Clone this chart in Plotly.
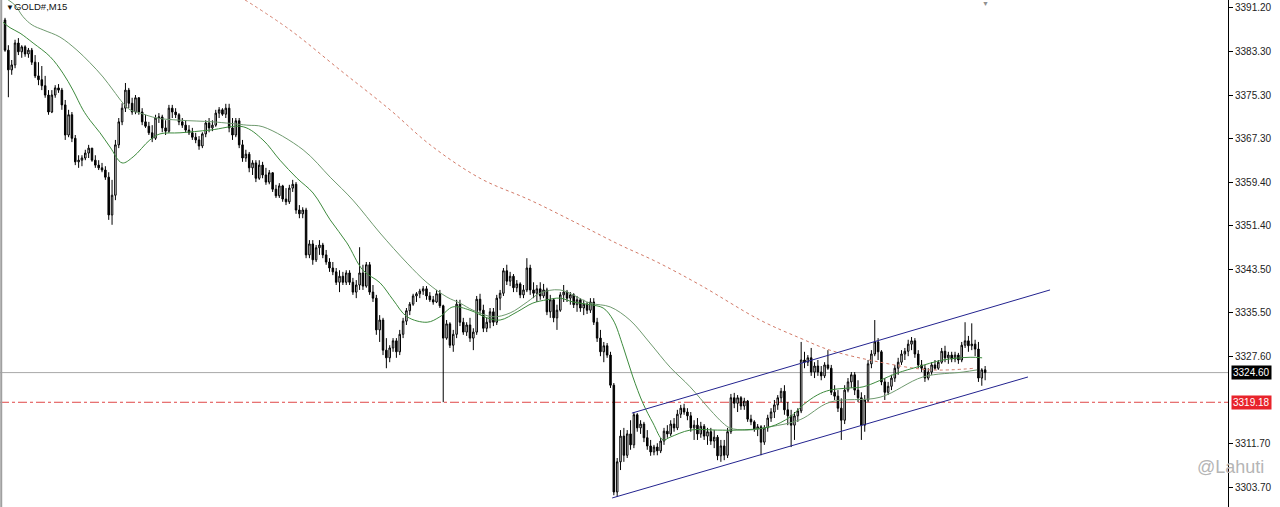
import plotly.graph_objects as go

# ---------------- data (GOLD#, M15) ----------------
first_open = 3389.0

closes = [
    3383.5, 3379.9, 3380.8, 3384.8, 3383.2, 3384.1, 3382.8, 3383.5, 3381.3, 3378.8,
    3378.1, 3377.0, 3375.3, 3372.2, 3375.3, 3376.6, 3376.2, 3373.5, 3368.0, 3371.7,
    3367.4, 3363.1, 3363.4, 3363.8, 3364.7, 3365.6, 3363.4, 3362.5, 3362.0, 3361.6,
    3360.3, 3353.4, 3357.0, 3366.2, 3370.4, 3372.9, 3376.2, 3373.8, 3372.2, 3374.8,
    3372.2, 3370.4, 3369.6, 3368.4, 3367.4, 3371.1, 3371.3, 3369.3, 3368.7, 3372.9,
    3372.2, 3371.7, 3370.4, 3369.8, 3368.9, 3368.4, 3367.6, 3367.1, 3366.0, 3368.2,
    3370.2, 3369.3, 3369.8, 3372.0, 3372.6, 3371.8, 3372.9, 3369.3, 3368.0, 3370.6,
    3366.2, 3363.8, 3364.5, 3362.0, 3362.9, 3360.1, 3362.5, 3360.7, 3359.4, 3361.1,
    3358.1, 3356.9, 3358.7, 3356.3, 3355.8, 3358.3, 3359.0, 3354.3, 3353.6, 3354.3,
    3346.1, 3348.1, 3345.2, 3347.4, 3347.9, 3346.1, 3344.8, 3343.7, 3343.0, 3341.1,
    3342.2, 3341.1, 3342.8, 3341.1, 3339.3, 3340.6, 3342.8, 3340.4, 3344.3, 3339.3,
    3338.2, 3332.4, 3334.2, 3328.7, 3327.3, 3329.1, 3330.4, 3328.4, 3331.6, 3334.0,
    3335.9, 3337.1, 3338.6, 3339.0, 3339.5, 3339.9, 3338.6, 3337.9, 3337.5, 3339.0,
    3336.8, 3330.9, 3333.5, 3329.6, 3331.6, 3337.1, 3333.8, 3332.0, 3333.3, 3330.9,
    3332.0, 3338.0, 3336.0, 3332.7, 3333.8, 3335.7, 3333.8, 3338.2, 3339.1, 3343.2,
    3341.3, 3342.2, 3340.1, 3340.8, 3338.8, 3339.7, 3343.7, 3339.7, 3339.1, 3339.9,
    3338.6, 3339.7, 3335.7, 3337.9, 3334.6, 3336.0, 3338.8, 3339.3, 3338.2, 3338.8,
    3337.0, 3337.9, 3336.4, 3337.1, 3336.0, 3337.5, 3333.8, 3330.9, 3328.4, 3329.5,
    3327.8, 3322.3, 3302.8, 3308.3, 3313.0, 3309.5, 3313.4, 3311.4, 3316.9, 3314.5,
    3315.2, 3312.7, 3311.2, 3310.1, 3311.0, 3310.3, 3312.1, 3313.9, 3313.4, 3315.2,
    3314.5, 3317.0, 3318.1, 3317.4, 3316.7, 3314.5, 3315.0, 3313.4, 3314.8, 3313.0,
    3313.8, 3312.1, 3312.8, 3309.4, 3311.2, 3309.5, 3313.8, 3320.0, 3319.0, 3320.0,
    3318.5, 3319.4, 3316.1, 3315.6, 3314.3, 3314.7, 3311.9, 3314.5, 3316.3, 3317.4,
    3318.7, 3320.0, 3321.2, 3317.8, 3316.7, 3315.0, 3316.7, 3317.6, 3326.9, 3326.5,
    3327.3, 3324.7, 3325.8, 3324.7, 3324.0, 3326.0, 3325.4, 3321.0, 3320.3, 3318.1,
    3315.9, 3321.4, 3322.9, 3324.2, 3321.4, 3320.0, 3315.0, 3319.6, 3326.2, 3328.0,
    3330.2, 3328.4, 3322.9, 3321.0, 3322.1, 3323.6, 3325.4, 3326.5, 3328.0, 3328.5,
    3329.8, 3330.4, 3328.0, 3326.0, 3325.4, 3323.6, 3324.7, 3326.0, 3325.4, 3326.5,
    3328.5, 3327.3, 3327.8, 3327.1, 3327.8, 3326.9, 3329.6, 3330.4, 3329.5, 3329.8,
    3328.9, 3323.6, 3325.1, 3324.6,
]

highs = [
    3389.4, 3384.4, 3381.7, 3385.4, 3385.7, 3384.4, 3384.4, 3383.9, 3383.9, 3382.6,
    3381.3, 3380.6, 3378.8, 3376.2, 3376.2, 3377.1, 3377.3, 3376.6, 3374.4, 3372.6,
    3372.2, 3368.0, 3364.3, 3364.3, 3365.3, 3366.2, 3365.4, 3364.3, 3363.4, 3362.9,
    3362.3, 3361.2, 3359.8, 3367.1, 3371.1, 3373.8, 3377.5, 3376.6, 3374.8, 3375.3,
    3374.9, 3372.9, 3371.7, 3370.4, 3369.8, 3371.7, 3372.0, 3371.7, 3370.7, 3373.5,
    3373.5, 3372.9, 3372.0, 3371.1, 3370.7, 3369.8, 3369.3, 3368.4, 3367.8, 3368.5,
    3370.7, 3371.1, 3370.7, 3372.6, 3373.1, 3372.9, 3373.7, 3373.7, 3371.1, 3371.1,
    3371.1, 3367.1, 3365.3, 3364.9, 3363.4, 3363.4, 3363.4, 3363.1, 3362.0, 3361.6,
    3361.2, 3358.9, 3359.2, 3358.9, 3358.3, 3358.9, 3359.8, 3359.4, 3355.2, 3354.8,
    3354.7, 3348.8, 3348.8, 3347.9, 3348.8, 3348.3, 3347.0, 3345.5, 3344.8, 3343.7,
    3343.3, 3343.0, 3343.3, 3343.3, 3341.9, 3341.5, 3347.5, 3344.3, 3344.8, 3344.8,
    3340.6, 3338.8, 3335.1, 3334.6, 3330.9, 3329.6, 3330.9, 3330.9, 3332.4, 3334.6,
    3336.4, 3337.5, 3339.0, 3339.3, 3339.9, 3340.4, 3340.4, 3339.3, 3338.6, 3339.7,
    3339.7, 3337.0, 3334.2, 3333.8, 3332.4, 3337.9, 3337.9, 3334.6, 3333.8, 3334.6,
    3332.7, 3338.6, 3339.0, 3337.0, 3334.6, 3336.4, 3336.4, 3338.8, 3339.7, 3343.7,
    3344.3, 3343.0, 3342.6, 3341.5, 3341.1, 3340.6, 3345.5, 3344.3, 3341.1, 3340.6,
    3341.1, 3340.8, 3340.1, 3338.8, 3338.2, 3337.0, 3339.3, 3340.6, 3339.7, 3339.3,
    3339.1, 3338.6, 3338.2, 3337.9, 3337.5, 3338.2, 3338.2, 3334.6, 3332.4, 3330.2,
    3330.0, 3328.4, 3322.7, 3309.0, 3314.1, 3314.5, 3314.1, 3315.9, 3317.4, 3317.2,
    3315.9, 3315.6, 3314.1, 3312.3, 3311.4, 3311.7, 3312.7, 3314.5, 3315.0, 3315.9,
    3316.3, 3317.8, 3318.7, 3318.9, 3318.1, 3317.4, 3315.9, 3316.3, 3315.6, 3315.2,
    3314.5, 3314.5, 3314.1, 3313.2, 3312.3, 3312.3, 3314.5, 3320.7, 3320.9, 3320.5,
    3320.3, 3320.0, 3319.6, 3316.9, 3315.9, 3315.2, 3315.0, 3315.0, 3316.9, 3318.1,
    3319.6, 3320.5, 3321.8, 3322.3, 3319.2, 3317.8, 3317.4, 3318.1, 3330.2, 3328.4,
    3327.8, 3329.1, 3326.5, 3326.9, 3325.8, 3326.5, 3328.7, 3326.0, 3322.3, 3321.4,
    3319.9, 3322.3, 3323.6, 3324.7, 3324.7, 3323.2, 3321.0, 3320.5, 3326.9, 3328.7,
    3334.2, 3330.9, 3328.7, 3323.6, 3322.9, 3324.2, 3326.0, 3327.3, 3328.7, 3329.1,
    3330.6, 3331.1, 3330.9, 3328.7, 3326.9, 3326.0, 3325.4, 3326.5, 3326.9, 3326.9,
    3329.1, 3329.5, 3328.4, 3328.4, 3328.4, 3328.2, 3330.2, 3333.8, 3331.3, 3333.6,
    3330.6, 3330.2, 3325.4, 3325.8,
]

lows = [
    3383.2, 3374.9, 3379.0, 3380.2, 3382.6, 3382.1, 3382.3, 3382.1, 3380.8, 3378.4,
    3377.1, 3376.2, 3374.8, 3371.7, 3372.0, 3374.8, 3375.7, 3372.6, 3367.1, 3367.6,
    3366.7, 3362.5, 3362.0, 3362.3, 3363.4, 3363.8, 3363.1, 3362.0, 3361.6, 3361.2,
    3359.8, 3352.5, 3351.6, 3356.1, 3365.6, 3369.8, 3372.2, 3372.9, 3371.7, 3371.8,
    3371.7, 3369.8, 3369.3, 3368.0, 3366.7, 3367.1, 3370.2, 3368.5, 3368.0, 3368.4,
    3371.1, 3371.1, 3369.8, 3369.3, 3368.5, 3368.0, 3367.1, 3366.5, 3365.3, 3365.6,
    3367.6, 3368.5, 3368.7, 3369.5, 3371.1, 3371.5, 3371.1, 3368.5, 3367.1, 3367.6,
    3365.6, 3363.1, 3363.1, 3361.2, 3360.7, 3359.4, 3359.8, 3360.1, 3358.9, 3359.0,
    3357.6, 3356.5, 3356.5, 3355.8, 3355.2, 3355.4, 3357.6, 3353.6, 3352.8, 3352.8,
    3345.5, 3345.5, 3344.3, 3344.8, 3346.1, 3345.5, 3344.3, 3343.0, 3342.4, 3340.6,
    3339.3, 3340.6, 3340.6, 3340.6, 3338.8, 3338.2, 3339.7, 3339.7, 3340.1, 3338.8,
    3337.5, 3331.5, 3330.2, 3327.8, 3325.4, 3326.5, 3328.4, 3327.3, 3327.8, 3330.9,
    3333.3, 3335.1, 3336.8, 3337.5, 3338.2, 3338.8, 3337.9, 3337.5, 3337.0, 3337.3,
    3336.4, 3319.2, 3330.6, 3329.1, 3328.4, 3330.9, 3333.1, 3331.5, 3331.3, 3330.2,
    3328.7, 3331.5, 3335.1, 3332.0, 3332.0, 3332.7, 3333.1, 3333.3, 3336.0, 3338.6,
    3340.6, 3340.4, 3339.3, 3339.3, 3338.2, 3338.2, 3339.3, 3338.8, 3338.2, 3337.5,
    3337.9, 3338.2, 3335.1, 3334.6, 3333.8, 3332.4, 3335.7, 3337.5, 3337.5, 3337.0,
    3336.4, 3335.7, 3335.7, 3335.1, 3335.3, 3335.5, 3333.3, 3330.2, 3327.6, 3326.5,
    3327.3, 3321.8, 3302.2, 3301.9, 3306.8, 3308.3, 3309.0, 3310.5, 3310.8, 3313.8,
    3313.4, 3311.9, 3310.5, 3309.4, 3309.5, 3309.5, 3309.9, 3311.4, 3312.7, 3313.0,
    3313.8, 3314.1, 3316.3, 3316.9, 3315.9, 3313.8, 3312.3, 3312.3, 3312.7, 3312.3,
    3311.4, 3311.4, 3310.8, 3308.6, 3308.3, 3308.6, 3309.0, 3313.4, 3318.1, 3317.4,
    3317.8, 3317.8, 3315.6, 3315.0, 3313.8, 3313.0, 3309.5, 3311.4, 3313.8, 3315.6,
    3316.3, 3317.8, 3319.2, 3316.9, 3315.0, 3311.0, 3312.3, 3315.6, 3317.2, 3325.4,
    3325.8, 3324.0, 3323.6, 3324.0, 3323.2, 3323.6, 3325.1, 3320.5, 3319.6, 3317.4,
    3312.3, 3315.2, 3321.0, 3321.8, 3320.5, 3319.2, 3312.3, 3313.8, 3319.2, 3325.4,
    3327.6, 3326.9, 3322.3, 3319.6, 3320.5, 3321.4, 3322.9, 3324.2, 3326.0, 3326.9,
    3327.6, 3328.7, 3327.3, 3325.4, 3324.7, 3322.9, 3323.2, 3324.2, 3325.1, 3325.1,
    3326.2, 3326.5, 3326.2, 3326.5, 3326.5, 3326.2, 3326.5, 3329.1, 3328.4, 3328.7,
    3327.6, 3322.9, 3322.2, 3323.2,
]

# moving averages (bar index, price)
ma_fast_x = [-0.6, 1.5, 4.5, 8.4, 13.5, 17.3, 20.3, 23.3, 25.4, 28.4, 31.4, 35.0, 38.3, 43.3, 46.3,
             52.3, 61.3, 71.2, 77.1, 82.2, 87.3, 92.1, 97.2, 102.2, 107.0, 112.1, 116.0, 120.2,
             126.2, 130.0, 133.9, 139.0, 144.1, 148.0, 153.1, 157.8, 162.0, 165.9, 169.8, 174.9,
             178.8, 181.8, 184.8, 187.7, 190.7, 193.7, 196.7, 198.8, 204.8, 212.9, 218.8, 228.7,
             234.7, 238.6, 242.8, 246.6, 252.6, 256.5, 266.7, 272.6, 280.4, 288.5, 292.1]
ma_fast_y = [3388.6, 3387.6, 3386.6, 3384.8, 3382.3, 3379.3, 3376.2, 3372.6, 3370.7, 3368.4, 3365.8,
             3362.9, 3364.0, 3367.1, 3368.2, 3368.4, 3368.9, 3369.5, 3367.1, 3363.4, 3360.1, 3357.4,
             3352.5, 3348.3, 3343.3, 3341.0, 3337.9, 3334.8, 3333.8, 3334.8, 3336.6, 3336.0, 3334.6,
             3334.2, 3335.7, 3337.3, 3337.9, 3338.2, 3337.5, 3337.0, 3336.4, 3334.2, 3329.3, 3323.8,
             3319.0, 3315.4, 3312.3, 3312.8, 3314.1, 3314.1, 3314.1, 3314.7, 3316.5, 3318.7, 3320.5,
             3321.4, 3321.8, 3322.0, 3324.5, 3325.6, 3326.9, 3327.4, 3327.3]

ma_slow_x = [0.9, 3.0, 5.4, 8.1, 11.4, 16.4, 21.5, 25.4, 29.3, 32.3, 35.3, 37.4, 40.4, 45.4, 52.3,
             62.2, 72.3, 77.1, 89.1, 97.2, 104.0, 112.1, 120.2, 126.2, 132.1, 136.0, 139.9, 145.9,
             151.0, 156.1, 159.9, 165.9, 174.9, 180.9, 186.8, 192.8, 198.8, 204.8, 210.8, 214.6,
             216.7, 221.8, 228.7, 237.7, 246.6, 261.6, 274.4, 286.4, 290.6]
ma_slow_y = [3392.7, 3391.7, 3389.6, 3388.1, 3387.2, 3385.9, 3383.5, 3381.2, 3378.6, 3376.2, 3373.8,
             3372.6, 3372.0, 3371.1, 3370.7, 3370.4, 3369.8, 3369.5, 3365.3, 3360.3, 3356.1, 3350.1,
             3344.6, 3341.0, 3338.4, 3337.3, 3336.0, 3334.8, 3335.5, 3337.5, 3339.1, 3339.7, 3337.3,
             3336.6, 3334.2, 3330.0, 3325.6, 3322.0, 3317.8, 3315.4, 3314.5, 3314.1, 3314.7, 3316.0,
             3319.2, 3320.1, 3323.8, 3324.7, 3325.1]

ma_long_x = [71.7, 85.2, 100.1, 115.1, 127.1, 142.0, 157.0, 171.9, 183.9, 194.9, 207.8, 225.7,
             237.7, 246.6, 261.6, 276.5, 290.0]
ma_long_y = [3392.7, 3387.2, 3379.9, 3372.6, 3366.2, 3360.1, 3356.1, 3351.6, 3347.9, 3344.8, 3340.6,
             3334.2, 3330.9, 3328.7, 3326.5, 3325.1, 3325.4]

# trend channel (bar index, price)
chan_upper_x = [187.4, 312.4]
chan_upper_y = [3317.2, 3339.7]
chan_lower_x = [181.5, 305.8]
chan_lower_y = [3301.7, 3323.8]

bid_price = 3324.60
level_price = 3319.18

tick_vals = [3391.20, 3383.30, 3375.30, 3367.30, 3359.40, 3351.40, 3343.50, 3335.50,
             3327.60, 3311.70, 3303.70]
tick_text = [f"{v:.2f}" for v in tick_vals]

symbol_label = "GOLD#,M15"
watermark = "@Lahuti"

# ---------------- build ----------------
n = len(closes)
assert len(highs) == n and len(lows) == n, (n, len(highs), len(lows))
bars = list(range(n))
opens = [first_open] + closes[:-1]
highs_c = [max(h, o, c) for h, o, c in zip(highs, opens, closes)]
lows_c = [min(l, o, c) for l, o, c in zip(lows, opens, closes)]

FONT = "Liberation Sans, Arial, sans-serif"

fig = go.Figure()

fig.add_trace(go.Scatter(x=ma_long_x, y=ma_long_y, mode="lines",
                         line=dict(color="#d27a68", width=1, dash="dot", shape="spline"),
                         hoverinfo="skip", showlegend=False))
fig.add_trace(go.Scatter(x=ma_slow_x, y=ma_slow_y, mode="lines",
                         line=dict(color="#6f9a6f", width=1, shape="spline"),
                         hoverinfo="skip", showlegend=False))
fig.add_trace(go.Scatter(x=ma_fast_x, y=ma_fast_y, mode="lines",
                         line=dict(color="#3d8a3d", width=1, shape="spline"),
                         hoverinfo="skip", showlegend=False))

fig.add_trace(go.Candlestick(
    x=bars, open=opens, high=highs_c, low=lows_c, close=closes,
    increasing=dict(line=dict(color="black", width=1), fillcolor="white"),
    decreasing=dict(line=dict(color="black", width=1), fillcolor="black"),
    whiskerwidth=0, showlegend=False, hoverinfo="skip"))

fig.add_trace(go.Scatter(x=chan_upper_x, y=chan_upper_y, mode="lines",
                         line=dict(color="#23238f", width=1), hoverinfo="skip", showlegend=False))
fig.add_trace(go.Scatter(x=chan_lower_x, y=chan_lower_y, mode="lines",
                         line=dict(color="#23238f", width=1), hoverinfo="skip", showlegend=False))

shapes = [
    dict(type="line", xref="paper", yref="y", x0=0, x1=1, y0=bid_price, y1=bid_price,
         line=dict(color="#a8a8a8", width=1), layer="below"),
    dict(type="line", xref="paper", yref="y", x0=0, x1=1, y0=level_price, y1=level_price,
         line=dict(color="#e04848", width=1, dash="dashdot"), layer="below"),
    dict(type="line", xref="paper", yref="paper", x0=0.001, x1=0.001, y0=0, y1=1,
         line=dict(color="#a0a0a0", width=2)),
]

annotations = [
    dict(xref="paper", yref="paper", x=0.003, y=1.0, xanchor="left", yanchor="top",
         text="<span style='font-size:8px'>▼</span>" + symbol_label, showarrow=False,
         font=dict(family=FONT, size=9.5, color="#111"), yshift=1),
    dict(xref="paper", yref="y", x=1, y=bid_price, xanchor="left", yanchor="middle",
         text=f"{bid_price:.2f}", showarrow=False, xshift=3, bgcolor="black",
         font=dict(family=FONT, size=10, color="white"), borderpad=1),
    dict(xref="paper", yref="y", x=1, y=level_price, xanchor="left", yanchor="middle",
         text=f"{level_price:.2f}", showarrow=False, xshift=3, bgcolor="#e8232b",
         font=dict(family=FONT, size=10, color="white"), borderpad=1),
    dict(xref="paper", yref="y", x=1, y=3307.3, xanchor="center", yanchor="middle",
         text=watermark, showarrow=False, xshift=2,
         font=dict(family=FONT, size=18, color="#b5b5b5")),
    dict(xref="x", yref="paper", x=293, y=1.0, xanchor="center", yanchor="top",
         text="▼", showarrow=False, yshift=2,
         font=dict(family=FONT, size=7, color="#909090")),
]

fig.update_layout(
    width=1280, height=507,
    margin=dict(l=0, r=52, t=0, b=0),
    paper_bgcolor="white", plot_bgcolor="white",
    showlegend=False,
    shapes=shapes, annotations=annotations,
    xaxis=dict(range=[-1.5, 365.6], showticklabels=False, showgrid=False, zeroline=False,
               ticks="", rangeslider=dict(visible=False), showline=False, fixedrange=True),
    yaxis=dict(side="right", range=[3300.05, 3392.66], tickvals=tick_vals, ticktext=tick_text,
               showgrid=False, zeroline=False, ticks="outside", ticklen=4, tickcolor="black",
               showline=True, linecolor="black", linewidth=1,
               tickfont=dict(family=FONT, size=10, color="#222"), fixedrange=True),
    boxgap=0.35,
)

fig.write_html("out.html", config={"displayModeBar": False},
               post_script="document.body.style.margin='0';document.body.style.overflow='hidden';")
